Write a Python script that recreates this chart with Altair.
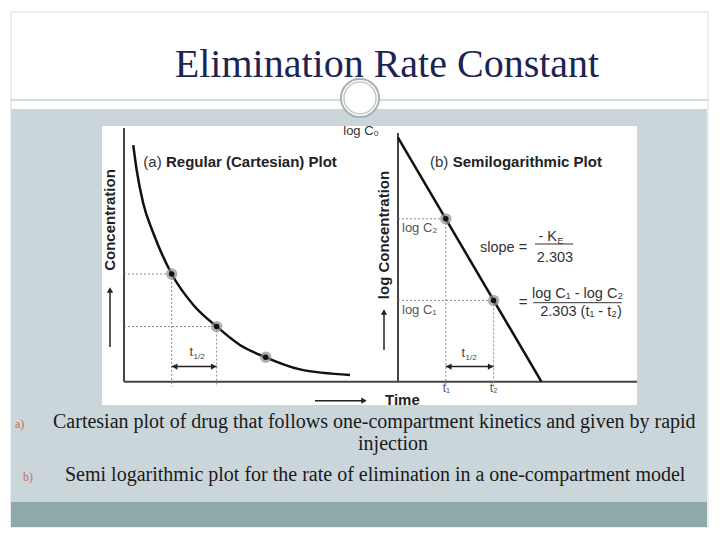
import altair as alt
import pandas as pd

# (a) regular (cartesian) plot: decay curve
a_time = [0.41, 0.56, 0.85, 1.30, 2.11, 3.07, 4.10, 5.13, 6.27, 7.79, 10.0]
a_conc = [9.40, 8.41, 7.09, 5.90, 4.28, 3.05, 2.19, 1.46, 0.97, 0.49, 0.27]
a_pt_time = [2.11, 4.10, 6.27]
a_pt_conc = [4.28, 2.19, 0.97]

# (b) semilogarithmic plot: straight line
b_time = [0.0, 6.0]
b_logc = [9.7, 0.0]
b_pt_time = [2.0, 4.0]
b_pt_logc = [6.47, 3.23]

half_life_level = 0.6
guide_bottom = -0.2

M = 8  # page margin
SANS = "Liberation Sans"
SERIF = "Liberation Serif"

XA = alt.Scale(domain=[0, 10], range=[124 - M, 350 - M], nice=False, zero=False)
YA = alt.Scale(domain=[0, 10], range=[381.7 - M, 130 - M], nice=False, zero=False)
XB = alt.Scale(domain=[0, 10], range=[398 - M, 637 - M], nice=False, zero=False)
YB = YA

base = alt.Chart()


def v(p):
    return alt.value(p - M)


def rect(x1, y1, x2, y2, fill, stroke=None, sw=0):
    kw = dict(fill=fill, strokeWidth=sw)
    if stroke:
        kw["stroke"] = stroke
    return base.mark_rect(**kw).encode(x=v(x1), x2=v(x2), y=v(y1), y2=v(y2))


def hline(x1, x2, y, color="#444", sw=2, dash=None):
    kw = dict(color=color, strokeWidth=sw)
    if dash:
        kw["strokeDash"] = dash
    return base.mark_rule(**kw).encode(x=v(x1), x2=v(x2), y=v(y))


def vline(x, y1, y2, color="#444", sw=2):
    return base.mark_rule(color=color, strokeWidth=sw).encode(x=v(x), y=v(y1), y2=v(y2))


def text(s, x, y, size=14, weight="normal", color="#333", align="left",
         baseline="alphabetic", font=SANS, angle=0):
    return base.mark_text(text=s, fontSize=size, fontWeight=weight, color=color,
                          align=align, baseline=baseline, font=font, angle=angle
                          ).encode(x=v(x), y=v(y))


def head(x, y, shape, size=45):
    return base.mark_point(shape=shape, filled=True, color="#222", size=size,
                           opacity=1).encode(x=v(x), y=v(y))


# ---------- slide background ----------
slide = [
    rect(11, 12, 708, 527, "white", "#d7dcdc", 1),
    hline(11, 708, 100, "#c9d0d0", 1.5),
    rect(11, 109, 707, 502, "#cbd6da"),
    rect(11, 502, 707, 527, "#8ea9a7"),
    base.mark_point(shape="circle", filled=True, color="white", size=1500, opacity=1).encode(x=v(360), y=v(98)),
    base.mark_point(shape="circle", filled=False, color="#a9b0b0", size=1444, strokeWidth=2, opacity=1).encode(x=v(360), y=v(98)),
    base.mark_point(shape="circle", filled=False, color="#c3c9c9", size=1024, strokeWidth=1.5, opacity=1).encode(x=v(360), y=v(98)),
    rect(102, 126, 637, 405, "white"),
    text("Elimination Rate Constant", 387, 77, 40, font=SERIF, color="#1c2455", align="center"),
    text("a)", 15, 428, 12, font=SERIF, color="#c0705e"),
    text("Cartesian plot of drug that follows  one-compartment kinetics and given by rapid",
         53, 428, 20, font=SERIF, color="#1a1a1a"),
    text("injection", 393, 450, 20, font=SERIF, color="#1a1a1a", align="center"),
    text("b)", 23, 481, 12, font=SERIF, color="#c0705e"),
    text("Semi logarithmic  plot for the rate of elimination in a one-compartment model",
         65, 481, 20, font=SERIF, color="#1a1a1a"),
]

# ---------- axes and axis labels ----------
axes = [
    vline(124, 128, 381.7),
    vline(398, 133, 381.7),
    hline(124, 637, 381.7),
    text("Concentration", 110, 220, 15, "bold", "#222", "center", "middle", angle=270),
    vline(110, 292, 347, "#222", 1.5),
    head(110, 290, "triangle-up", 40),
    text("log Concentration", 384, 235, 15, "bold", "#222", "center", "middle", angle=270),
    vline(384, 314, 350, "#222", 1.5),
    head(384, 312, "triangle-up", 40),
    hline(315, 362, 400.7, "#222", 1.5),
    head(364, 400.7, "triangle-right", 40),
    text("Time", 385, 405, 15, "bold", "#222"),
    text("(a)", 161.7, 166.7, 15, color="#333", align="right"),
    text("Regular (Cartesian) Plot", 166, 166.7, 15, "bold", "#222"),
    text("(b)", 448.3, 166.7, 15, color="#333", align="right"),
    text("Semilogarithmic Plot", 452.7, 166.7, 15, "bold", "#222"),
    text("log C₀", 379, 135, 13, color="#333", align="right"),
    text("log C₂", 402, 232, 13, color="#555"),
    text("log C₁", 402, 314, 13, color="#555"),
    text("t", 446, 392, 12, color="#555", align="right"),
    text("₁", 446, 392, 12, color="#555"),
    text("t", 493, 392, 12, color="#555", align="right"),
    text("₂", 493, 392, 12, color="#555"),
    text("t", 193, 356, 13, color="#444", align="right"),
    text("1/2", 193.5, 359, 8, color="#444"),
    text("t", 465, 357, 13, color="#444", align="right"),
    text("1/2", 465.5, 360, 8, color="#444"),
    # slope formula
    text("slope =", 480, 251.7, 14.5, color="#333"),
    text("- K", 557, 240.7, 14.5, color="#333", align="right"),
    text("E", 557.5, 243.5, 9, color="#333"),
    hline(535, 573.3, 244, "#333", 1),
    text("2.303", 555, 261.7, 14.5, color="#333", align="center"),
    text("=", 523, 301.7, 15, color="#333", align="center", baseline="middle"),
    text("log C₁ - log C₂", 577.5, 298.3, 14.5, color="#333", align="center"),
    hline(533.3, 621.7, 302.7, "#333", 1),
    text("2.303 (t₁ - t₂)", 581, 316, 14.5, color="#333", align="center"),
]

# ---------- plot (a) data ----------
a_curve = pd.DataFrame({"t": a_time, "c": a_conc})
a_pts = pd.DataFrame({"t": a_pt_time, "c": a_pt_conc})
a_guides = a_pts.iloc[:2].assign(x0=0.0, yb=guide_bottom)
a_arrow = pd.DataFrame({"t0": [a_pt_time[0]], "t1": [a_pt_time[1]], "y": [half_life_level]})

dotted = dict(color="#8c8c8c", strokeWidth=1, strokeDash=[2, 2])


def plot_layers(curve, pts, guides, arrow, xs, ys, curve_mark):
    X = lambda f: alt.X(f, scale=xs, axis=None)
    Y = lambda f: alt.Y(f, scale=ys, axis=None)
    return [
        alt.Chart(guides).mark_rule(**dotted).encode(x=X("x0:Q"), x2="t:Q", y=Y("c:Q")),
        alt.Chart(guides).mark_rule(**dotted).encode(x=X("t:Q"), y=Y("c:Q"), y2="yb:Q"),
        alt.Chart(arrow).mark_rule(color="#222", strokeWidth=1.5).encode(x=X("t0:Q"), x2="t1:Q", y=Y("y:Q")),
        alt.Chart(arrow).mark_point(shape="triangle-left", filled=True, color="#222", size=40,
                                    opacity=1, xOffset=3).encode(x=X("t0:Q"), y=Y("y:Q")),
        alt.Chart(arrow).mark_point(shape="triangle-right", filled=True, color="#222", size=40,
                                    opacity=1, xOffset=-3).encode(x=X("t1:Q"), y=Y("y:Q")),
        alt.Chart(curve).mark_line(color="#111", strokeWidth=2.5, **curve_mark).encode(x=X("t:Q"), y=Y("c:Q")),
        alt.Chart(pts).mark_point(shape="circle", filled=True, color="#8f8f8f", size=130,
                                  opacity=0.7).encode(x=X("t:Q"), y=Y("c:Q")),
        alt.Chart(pts).mark_point(shape="circle", filled=True, color="#111", size=30,
                                  opacity=1).encode(x=X("t:Q"), y=Y("c:Q")),
    ]


b_curve = pd.DataFrame({"t": b_time, "c": b_logc})
b_pts = pd.DataFrame({"t": b_pt_time, "c": b_pt_logc})
b_guides = b_pts.assign(x0=0.0, yb=guide_bottom)
b_arrow = pd.DataFrame({"t0": [b_pt_time[0]], "t1": [b_pt_time[1]], "y": [half_life_level]})

layers = (slide + axes
          + plot_layers(a_curve, a_pts, a_guides, a_arrow, XA, YA, {"interpolate": "monotone"})
          + plot_layers(b_curve, b_pts, b_guides, b_arrow, XB, YB, {}))

chart = alt.layer(*layers, data=pd.DataFrame({"k": [0]})).resolve_scale(
    x="independent", y="independent"
).properties(
    width=704, height=523, padding=0, background="white"
).configure_view(stroke=None)

chart.save("out.html", embed_options={"renderer": "svg", "actions": False})
